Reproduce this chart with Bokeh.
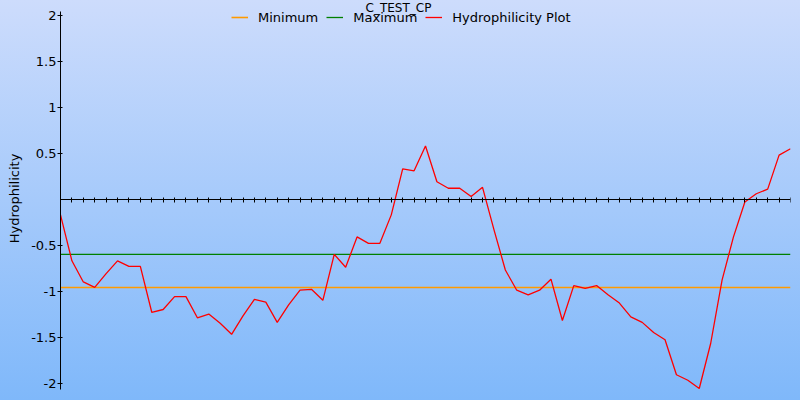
from bokeh.plotting import figure
from bokeh.models import (Range1d, FixedTicker, GlobalInlineStyleSheet, Label, Legend,
                          LegendItem, CustomJSTickFormatter)
from bokeh.embed import file_html
from bokeh.resources import INLINE

TITLE = "C_TEST_CP"
Y_LABEL = "Hydrophilicity"

positions = list(range(65))
hydrophilicity = [
    -0.17, -0.67, -0.90, -0.96, -0.81, -0.67, -0.73, -0.73, -1.23, -1.20,
    -1.06, -1.06, -1.29, -1.25, -1.35, -1.47, -1.27, -1.09, -1.12, -1.34,
    -1.15, -0.99, -0.98, -1.10, -0.60, -0.74, -0.41, -0.48, -0.48, -0.17,
    0.33, 0.31, 0.58, 0.19, 0.12, 0.12, 0.03, 0.13, -0.33, -0.77,
    -0.99, -1.04, -0.99, -0.87, -1.32, -0.94, -0.97, -0.94, -1.04, -1.13,
    -1.28, -1.34, -1.45, -1.53, -1.91, -1.97, -2.06, -1.57, -0.88, -0.41,
    -0.03, 0.06, 0.11, 0.48, 0.55,
]
MINIMUM = -0.96
MAXIMUM = -0.60

Y_TICKS = [-2, -1.5, -1, -0.5, 0.5, 1, 1.5, 2]
Y_TICK_LABELS = ["-2", "-1.5", "-1", "-0.5", "0.5", "1", "1.5", "2"]
Y_AXIS_BOUNDS = (-2.0707, 2.0435)

FONT = "DejaVu Sans"

p = figure(width=800, height=400, output_backend="svg", toolbar_location=None,
           x_range=Range1d(positions[0], positions[-1]),
           y_range=Range1d(-2.1469, 2.1633),
           min_border_left=60, min_border_right=10,
           min_border_top=0, min_border_bottom=4)
p.border_fill_color = None
p.background_fill_color = None
p.outline_line_color = None
p.grid.visible = False
p.styles = {"background": "linear-gradient(to bottom, #cddcfc 0%, #7fb8fa 100%)"}
p.stylesheets = [GlobalInlineStyleSheet(
    css="html, body { margin: 0 !important; padding: 0; overflow: hidden; }")]

# x axis drawn through zero, ticks at every position, no labels
xa = p.xaxis[0]
xa.fixed_location = 0
xa.ticker = FixedTicker(ticks=positions)
xa.formatter = CustomJSTickFormatter(code="return '';")
xa.major_tick_in = 2
xa.major_tick_out = 3
xa.minor_tick_line_color = None
xa.axis_line_color = "black"
xa.major_tick_line_color = "black"
xa.axis_line_width = 1
xa.major_label_standoff = 0

ya = p.yaxis[0]
ya.bounds = Y_AXIS_BOUNDS
ya.ticker = FixedTicker(ticks=Y_TICKS)
ya.major_label_overrides = dict(zip(Y_TICKS, Y_TICK_LABELS))
ya.major_tick_in = 2
ya.major_tick_out = 3
ya.minor_tick_line_color = None
ya.axis_line_color = "black"
ya.major_tick_line_color = "black"
ya.major_label_standoff = 1
ya.major_label_text_font = FONT
ya.major_label_text_font_size = "13px"
ya.major_label_text_color = "black"
ya.axis_label = Y_LABEL
ya.axis_label_text_font = FONT
ya.axis_label_text_font_size = "13px"
ya.axis_label_text_font_style = "normal"
ya.axis_label_text_color = "black"
ya.axis_label_standoff = 6

x_ends = [positions[0], positions[-1]]
r_min = p.line(x_ends, [MINIMUM, MINIMUM], line_color="#ff9a00", line_width=1.6)
r_max = p.line(x_ends, [MAXIMUM, MAXIMUM], line_color="#008000", line_width=1.3)
r_hyd = p.line(positions, hydrophilicity, line_color="#ff0000", line_width=1.3)

legend = Legend(items=[
    LegendItem(label="Minimum", renderers=[r_min]),
    LegendItem(label="Maximum", renderers=[r_max]),
    LegendItem(label="Hydrophilicity Plot", renderers=[r_hyd]),
], location=(171, 371), orientation="horizontal")
legend.padding = 0
legend.margin = 0
legend.spacing = 8
legend.label_standoff = 10
legend.glyph_width = 17
legend.glyph_height = 16
legend.label_height = 16
legend.label_text_font = FONT
legend.label_text_font_size = "13px"
legend.label_text_color = "black"
legend.border_line_color = None
legend.background_fill_alpha = 0
p.add_layout(legend)

title = Label(x=338, y=389, x_units="screen", y_units="screen", text=TITLE,
              text_align="center", text_baseline="alphabetic",
              text_font=FONT, text_font_size="12px", text_color="black")
p.add_layout(title)

open("out.html", "w").write(file_html(p, INLINE))
